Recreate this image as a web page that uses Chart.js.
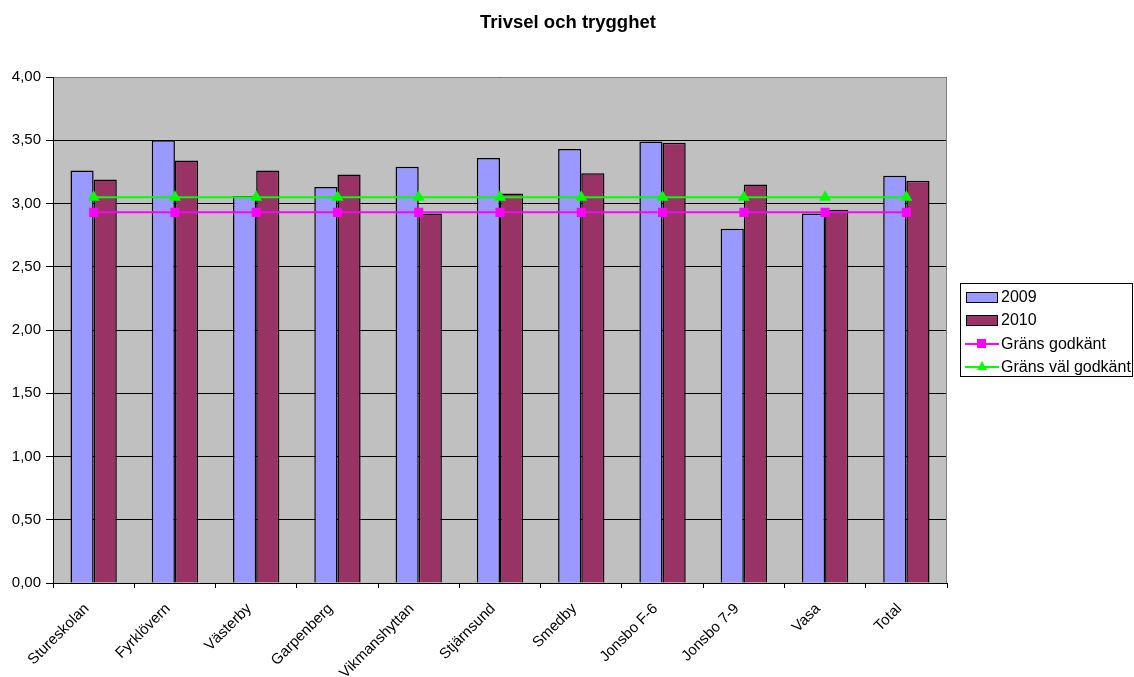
<!DOCTYPE html>
<html>
<head>
<meta charset="utf-8">
<script src="https://cdn.jsdelivr.net/npm/chart.js@4.4.0/dist/chart.umd.min.js"></script>
<style>
  html, body { margin: 0; padding: 0; background: #fff; }
  #wrap { position: relative; width: 1134px; height: 677px; overflow: hidden; font-family: "Liberation Sans", Arial, sans-serif; }
  #chart { position: absolute; left: 0; top: 0; }
  #title { position: absolute; left: 0; width: 1136px; top: 11px; text-align: center; font-weight: bold; font-size: 18.5px; }
  #legend { position: absolute; left: 960px; top: 283px; width: 173px; height: 94px; border: 1px solid #000; box-sizing: border-box; font-size: 16px; }
  .item { position: absolute; left: 4px; height: 18px; line-height: 18px; }
  .item span { position: absolute; left: 36px; top: 0; white-space: nowrap; }
  .box { position: absolute; left: 1px; top: 4px; width: 30px; height: 9px; border: 1px solid #000; }
  .line { position: absolute; left: 0; top: 8px; width: 34px; height: 2px; }
  .mark { position: absolute; left: 12px; }
</style>
</head>
<body>
<div id="wrap">
  <canvas id="chart" width="1134" height="677"></canvas>
  <div id="title">Trivsel och trygghet</div>
  <div id="legend"></div>
</div>
<script>
const categories = ['Stureskolan', 'Fyrklövern', 'Västerby', 'Garpenberg', 'Vikmanshyttan', 'Stjärnsund', 'Smedby', 'Jonsbo F-6', 'Jonsbo 7-9', 'Vasa', 'Total']
const values2009 = [3.26, 3.50, 3.06, 3.13, 3.29, 3.36, 3.43, 3.49, 2.80, 2.92, 3.22]
const values2010 = [3.19, 3.34, 3.26, 3.23, 2.92, 3.08, 3.24, 3.48, 3.15, 2.95, 3.18]
const gransGodkant = [2.93, 2.93, 2.93, 2.93, 2.93, 2.93, 2.93, 2.93, 2.93, 2.93, 2.93]
const gransValGodkant = [3.05, 3.05, 3.05, 3.05, 3.05, 3.05, 3.05, 3.05, 3.05, 3.05, 3.05]
const yTicks = [0, 0.5, 1, 1.5, 2, 2.5, 3, 3.5, 4]

const plotBg = {
    id: 'plotBg',
    beforeDraw(chart) {
        const { ctx, chartArea: a } = chart
        ctx.save()
        ctx.fillStyle = '#C0C0C0'
        ctx.fillRect(a.left, a.top, a.right - a.left, a.bottom - a.top)
        ctx.restore()
    },
    afterDatasetsDraw(chart) {
        const { ctx, chartArea: a } = chart
        ctx.save()
        ctx.strokeStyle = '#808080'
        ctx.lineWidth = 1
        ctx.beginPath()
        ctx.moveTo(a.left, a.top + 0.5)
        ctx.lineTo(a.right - 0.5, a.top + 0.5)
        ctx.lineTo(a.right - 0.5, a.bottom)
        ctx.stroke()
        ctx.strokeStyle = '#000'
        ctx.beginPath()
        ctx.moveTo(a.left + 0.5, a.top)
        ctx.lineTo(a.left + 0.5, a.bottom + 0.5)
        ctx.lineTo(a.right, a.bottom + 0.5)
        ctx.stroke()
        ctx.restore()
    }
}

const font = { family: '"Liberation Sans", Arial, sans-serif', size: 15 }

new Chart(document.getElementById('chart'), {
    type: 'bar',
    data: {
        labels: categories,
        datasets: [
            // bar order also sets left/right position in the group
            { label: '2009', data: values2009, backgroundColor: '#9999FF', borderColor: '#000', borderWidth: 1.5, order: 2 },
            { label: '2010', data: values2010, backgroundColor: '#993366', borderColor: '#000', borderWidth: 1.5, order: 3 },
            { label: 'Gräns godkänt', type: 'line', data: gransGodkant, borderColor: '#FF00FF', backgroundColor: '#FF00FF', borderWidth: 2, pointStyle: 'rect', pointRadius: 5, order: 1 },
            { label: 'Gräns väl godkänt', type: 'line', data: gransValGodkant, borderColor: '#00FF00', backgroundColor: '#00FF00', borderWidth: 2, pointStyle: 'triangle', pointRadius: 5, order: 0 }
        ]
    },
    options: {
        responsive: false,
        animation: false,
        layout: { padding: { top: 77, right: 187, left: 0, bottom: 0 } },
        plugins: { legend: { display: false }, title: { display: false }, tooltip: { enabled: false } },
        datasets: { bar: { categoryPercentage: 0.57, barPercentage: 1 } },
        scales: {
            x: {
                offset: true,
                grid: { offset: true, drawOnChartArea: false, drawTicks: true, tickLength: 5, color: '#000' },
                border: { display: false },
                ticks: { color: '#000', font, minRotation: 45, maxRotation: 45, padding: 12, labelOffset: -7 },
                afterFit(scale) { scale.height = 94 }
            },
            y: {
                min: 0, max: 4,
                afterBuildTicks(scale) { scale.ticks = yTicks.map(v => ({ value: v })) },
                grid: { color: '#000', tickLength: 7, lineWidth: 1 },
                border: { display: false },
                ticks: { color: '#000', font, padding: 5, callback: v => v.toFixed(2).replace('.', ',') },
                afterFit(scale) { scale.width = 53 }
            }
        }
    },
    plugins: [plotBg]
})

// legend, html
const legendItems = [
    { label: '2009', kind: 'box', color: '#9999FF' },
    { label: '2010', kind: 'box', color: '#993366' },
    { label: 'Gräns godkänt', kind: 'rect', color: '#FF00FF' },
    { label: 'Gräns väl godkänt', kind: 'tri', color: '#00FF00' }
]
const $legend = document.getElementById('legend')
legendItems.forEach((it, i) => {
    const $item = document.createElement('div')
    $item.className = 'item'
    $item.style.top = (4 + i * 23.3) + 'px'
    if (it.kind === 'box') {
        $item.innerHTML = `<div class="box" style="background:${it.color}"></div>`
    } else if (it.kind === 'rect') {
        $item.innerHTML = `<div class="line" style="background:${it.color}"></div><div class="mark" style="top:4px;width:9px;height:9px;background:${it.color}"></div>`
    } else {
        $item.innerHTML = `<div class="line" style="background:${it.color}"></div><div class="mark" style="top:3px;width:0;height:0;border-left:5px solid transparent;border-right:5px solid transparent;border-bottom:9px solid ${it.color}"></div>`
    }
    const $t = document.createElement('span')
    $t.textContent = it.label
    $item.appendChild($t)
    $legend.appendChild($item)
})
</script>
</body>
</html>
